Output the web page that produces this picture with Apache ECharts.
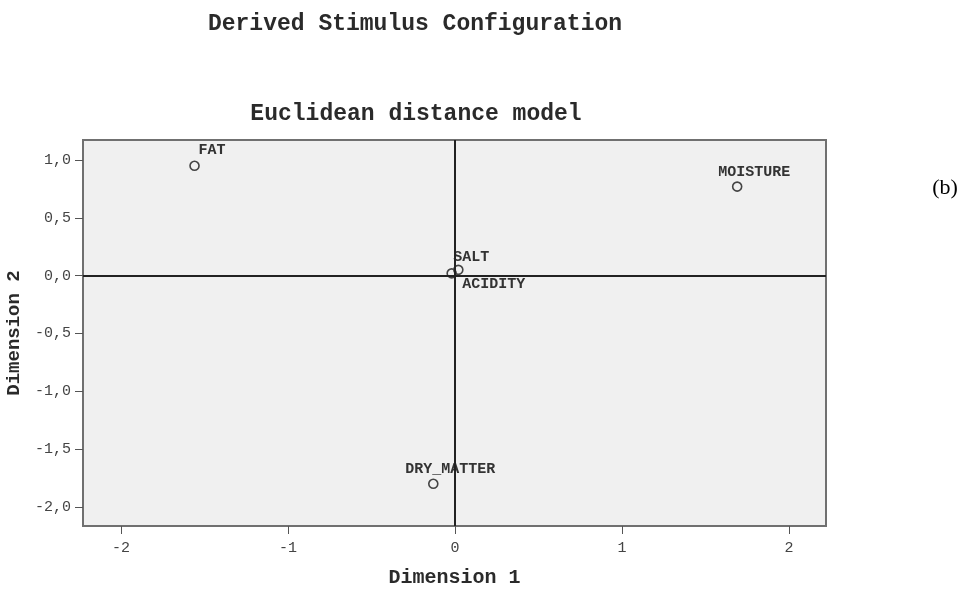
<!DOCTYPE html>
<html>
<head>
<meta charset="utf-8">
<script src="https://cdn.jsdelivr.net/npm/echarts@6/dist/echarts.min.js"></script>
<style>
  html, body { margin: 0; padding: 0; background: #fff; }
  #chart { width: 968px; height: 590px; }
</style>
</head>
<body>
<div id="chart"></div>
<script>
// Stimulus coordinates in the two-dimensional Euclidean solution
var stimulusNames = ['FAT', 'MOISTURE', 'SALT', 'ACIDITY', 'DRY_MATTER'];
var dim1Values = [-1.56, 1.69, 0.02, -0.02, -0.13];
var dim2Values = [0.95, 0.77, 0.05, 0.02, -1.80];

// Tick labels
var xTicks = [-2, -1, 0, 1, 2];
var yTicks = [-2.0, -1.5, -1.0, -0.5, 0.0, 0.5, 1.0];

var mono = '"Liberation Mono", "Courier New", monospace';

// Where each stimulus name sits relative to its marker
var labelPlacement = {
  'FAT':        { offset: [4, -16], align: 'left' },
  'MOISTURE':   { offset: [17, -14], align: 'center' },
  'SALT':       { offset: [13, -13], align: 'center' },
  'ACIDITY':    { offset: [42, 11], align: 'center' },
  'DRY_MATTER': { offset: [17, -15], align: 'center' }
};

var points = stimulusNames.map(function (n, i) {
  var p = labelPlacement[n];
  return {
    name: n,
    value: [dim1Values[i], dim2Values[i]],
    label: { offset: p.offset, align: p.align }
  };
});

function comma(v) { return v.toFixed(1).replace('.', ','); }

var chart = echarts.init(document.getElementById('chart'), null, { renderer: 'canvas' });
chart.setOption({
  backgroundColor: '#ffffff',
  animation: false,
  title: [
    {
      text: 'Derived Stimulus Configuration',
      left: 410, top: 8, textAlign: 'center',
      textStyle: { fontFamily: mono, fontWeight: 'bold', fontSize: 23, color: '#2a2a2a' }
    },
    {
      text: 'Euclidean distance model',
      left: 411, top: 98, textAlign: 'center',
      textStyle: { fontFamily: mono, fontWeight: 'bold', fontSize: 23, color: '#2a2a2a' }
    },
    {
      text: '(b)',
      left: 940, top: 172, textAlign: 'center',
      textStyle: { fontFamily: '"Liberation Serif", "Times New Roman", serif', fontWeight: 'normal', fontSize: 22, color: '#000' }
    }
  ],
  grid: {
    left: 83, right: 142, top: 140, bottom: 64,
    outerBoundsMode: 'none',
    containLabel: false,
    show: true,
    backgroundColor: '#f0f0f0',
    borderColor: '#707070',
    borderWidth: 2
  },
  xAxis: {
    type: 'value',
    min: -2.228, max: 2.222,
    name: 'Dimension 1',
    nameLocation: 'middle',
    nameGap: 42,
    nameTextStyle: { fontFamily: mono, fontWeight: 'bold', fontSize: 20, color: '#2a2a2a' },
    axisLine: { show: false, onZero: false },
    splitLine: { show: false },
    axisTick: { show: true, customValues: xTicks, length: 8, lineStyle: { color: '#555', width: 1 } },
    axisLabel: {
      customValues: xTicks,
      fontFamily: mono, fontSize: 15, color: '#444', margin: 15,
      formatter: function (v) { return String(v); }
    }
  },
  yAxis: {
    type: 'value',
    min: -2.165, max: 1.173,
    name: 'Dimension 2',
    nameLocation: 'middle',
    nameGap: 53,
    nameTextStyle: { fontFamily: mono, fontWeight: 'bold', fontSize: 19, color: '#2a2a2a' },
    axisLine: { show: false, onZero: false },
    splitLine: { show: false },
    axisTick: { show: true, customValues: yTicks, length: 8, lineStyle: { color: '#555', width: 1 } },
    axisLabel: {
      customValues: yTicks,
      fontFamily: mono, fontSize: 15, color: '#444', margin: 12,
      formatter: function (v) { return comma(v); }
    }
  },
  series: [{
    type: 'scatter',
    symbol: 'circle',
    symbolSize: 9,
    itemStyle: { color: 'rgba(0,0,0,0)', borderColor: '#444', borderWidth: 1.6, opacity: 1 },
    label: {
      show: true,
      position: 'inside',
      formatter: '{b}',
      fontFamily: mono, fontWeight: 'bold', fontSize: 15, color: '#333'
    },
    data: points,
    markLine: {
      silent: true,
      symbol: 'none',
      label: { show: false },
      lineStyle: { color: '#222', width: 2, type: 'solid' },
      data: [{ xAxis: 0 }, { yAxis: 0 }]
    },
    z: 3
  }]
});
</script>
</body>
</html>
